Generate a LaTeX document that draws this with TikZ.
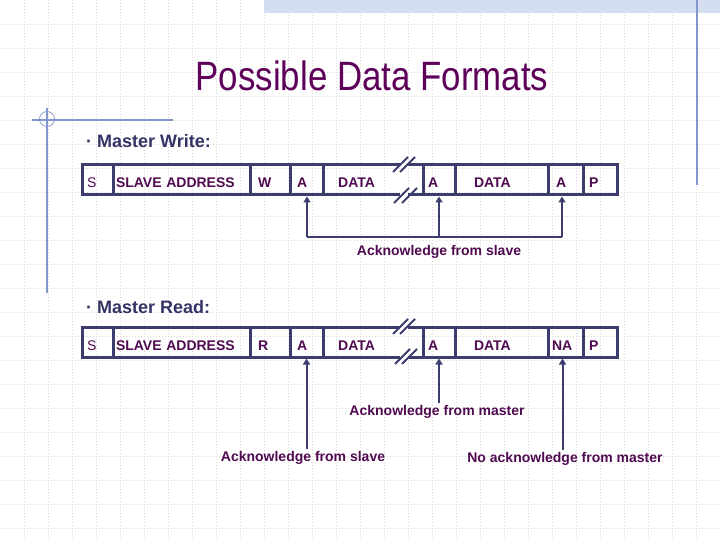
\documentclass[tikz,border=0pt]{standalone}
\usepackage{fontspec}
\setmainfont{Liberation Sans}
\newfontfamily\titlefont[FakeStretch=0.85]{Liberation Sans}
\usetikzlibrary{arrows.meta,calc}
\definecolor{titlec}{RGB}{94,0,90}
\definecolor{txtc}{RGB}{80,10,80}
\definecolor{navy}{RGB}{51,51,102}
\definecolor{framec}{RGB}{60,60,110}
\definecolor{decoc}{RGB}{130,150,205}
\definecolor{bandc}{RGB}{212,222,240}
\definecolor{gridc}{RGB}{215,215,215}
\newcommand{\fieldfont}{\fontsize{14bp}{16bp}\selectfont\bfseries}
\begin{document}
\begin{tikzpicture}[x=1bp,y=-1bp,
  gridline/.style={draw=gridc, line width=0.6bp, dash pattern=on 1bp off 2bp},
  deco/.style={draw=decoc, line width=1.2bp},
  frameline/.style={draw=framec, line width=3bp},
  slash/.style={draw=framec, line width=2bp},
  cell/.style={draw=framec, line width=3bp, inner sep=0pt, minimum height=30bp,
    text width=#1, text height=16bp, text depth=0pt, align=left,
    font=\fieldfont, text=txtc},
  fieldtext/.style={font=\fieldfont, text=txtc, inner sep=0pt, anchor=base west},
  head/.style={font=\fontsize{18bp}{20bp}\selectfont\bfseries, text=navy, inner sep=0pt, anchor=base west},
  lbl/.style={font=\fieldfont, text=txtc, inner sep=2bp, anchor=base},
  conn/.style={draw=framec, line width=2bp},
  arr/.style={conn, -{Triangle[width=7bp,length=6bp]}}]
\useasboundingbox (0,0) rectangle (720,540);
\fill[white] (0,0) rectangle (720,540);
% background grid
\foreach \gx in {24,48,...,720} \draw[gridline] (\gx,0) -- (\gx,540);
\foreach \gy in {24,48,...,528} \draw[gridline] (0,\gy) -- (720,\gy);
% top band and right line
\fill[bandc] (264,0) rectangle (720,13);
\draw[deco] (697,0) -- (697,185);
% left decoration
\draw[deco] (47,108) -- (47,293);
\draw[deco] (32,120) -- (173,120);
\draw[draw=decoc, line width=0.7bp] (47,119) circle[radius=7.5];
% title
\node[font=\titlefont\fontsize{41bp}{44bp}\selectfont, text=titlec, inner sep=0pt, anchor=base] (title) at (372,91) {Possible Data Formats};
% ---------- Master Write ----------
\node[head] (mw) at (86,148) {· Master Write:};
\node[cell=31bp] (wS) at (97.5,180) {\hspace*{5bp}\mdseries S};
\node[cell=137bp] (wSA) at (181.5,180) {\hspace*{3bp}SLAVE ADDRESS};
\node[cell=40bp] (wW) at (270,180) {\hspace*{8bp}W};
\node[cell=33bp] (wA1) at (306.5,180) {\hspace*{7bp}A};
\node[fieldtext] (wD1) at (338,188) {DATA};
\node[cell=32bp] (wA2) at (439,180) {\hspace*{5bp}A};
\node[cell=93bp] (wD2) at (501.5,180) {\hspace*{19bp}DATA};
\node[cell=35bp] (wA3) at (565.5,180) {\hspace*{8bp}A};
\node[cell=34bp] (wP) at (600,180) {\hspace*{6bp}P};
\draw[frameline] (323,165) -- (400,165) (408,165) -- (423,165);
\draw[frameline] (323,195) -- (400,195) (408,195) -- (423,195);
\draw[slash] (393,172) -- (408,157) (400,172) -- (415,157);
\draw[slash] (394,203) -- (409,188) (402,203) -- (417,188);
\node[lbl] (wAck) at (439,256) {Acknowledge from slave};
\coordinate (wjL) at (307,237);
\coordinate (wjR) at (562,237);
\draw[conn] (wjL) -- (wjR);
\draw[arr] (wjL) -- (wjL |- wA1.south);
\draw[arr] (wA2.south |- wjL) -- (wA2.south);
\draw[arr] (wjR) -- (wjR |- wA3.south);
% ---------- Master Read ----------
\node[head] (mr) at (86,313) {· Master Read:};
\node[cell=31bp] (rS) at (97.5,342) {\hspace*{5bp}\mdseries S};
\node[cell=137bp] (rSA) at (181.5,342) {\hspace*{3bp}SLAVE ADDRESS};
\node[cell=40bp] (rR) at (270,342) {\hspace*{8bp}R};
\node[cell=33bp] (rA1) at (306.5,342) {\hspace*{7bp}A};
\node[fieldtext] (rD1) at (338,350) {DATA};
\node[cell=32bp] (rA2) at (439,342) {\hspace*{5bp}A};
\node[cell=93bp] (rD2) at (501.5,342) {\hspace*{19bp}DATA};
\node[cell=35bp] (rNA) at (565.5,342) {\hspace*{4bp}NA};
\node[cell=34bp] (rP) at (600,342) {\hspace*{6bp}P};
\draw[frameline] (323,327) -- (400,327) (408,327) -- (423,327);
\draw[frameline] (323,357) -- (400,357) (408,357) -- (423,357);
\draw[slash] (393,334) -- (408,319) (400,334) -- (415,319);
\draw[slash] (395,364) -- (410,349) (402,364) -- (417,349);
\node[lbl] (rAckM) at (437,415) {Acknowledge from master};
\node[lbl] (rAckS) at (303,461) {Acknowledge from slave};
\node[lbl] (rNoAck) at (565,462) {No acknowledge from master};
\draw[arr] (rA1.south |- rAckS.north) -- (rA1.south);
\draw[arr] (rA2.south |- rAckM.north) -- (rA2.south);
\draw[arr] ($(rNA.south |- rNoAck.north)+(-3,0)$) -- ($(rNA.south)+(-3,0)$);
\end{tikzpicture}
\end{document}
